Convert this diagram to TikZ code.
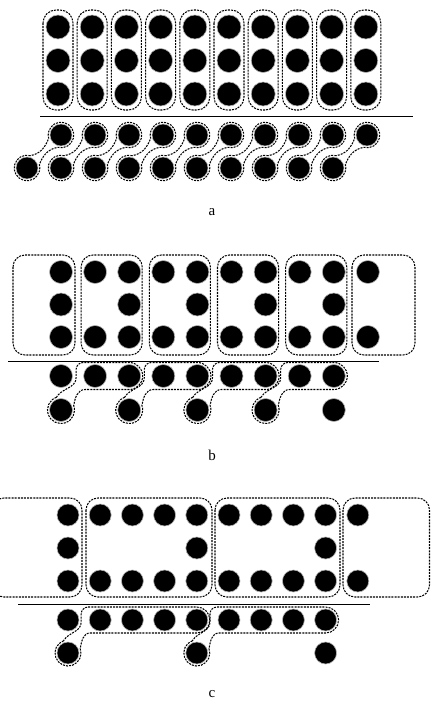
\documentclass[tikz,border=0pt]{standalone}
\usepackage{fontspec}
\setmainfont{Liberation Serif}
\usetikzlibrary{calc}
\tikzset{
  dl/.style={draw=black, line width=1.05pt, dash pattern=on 2pt off 1.1pt},
  dotbase/.style={circle, fill=black, draw=black!30, line width=0.6pt, inner sep=0pt},
  dotA/.style={dotbase, minimum size=24pt},
  dotAs/.style={dotbase, minimum size=22pt},
  dotB/.style={dotbase, minimum size=23pt},
  dotC/.style={dotbase, minimum size=22pt},
  sep/.style={draw=black, line width=0.9pt},
  lab/.style={font=\fontsize{15}{17}\selectfont, inner sep=0pt}
}
\begin{document}
\begin{tikzpicture}[x=1pt,y=1pt]
\useasboundingbox (0,0) rectangle (431,-704);
\begin{scope}
\clip (0,0) rectangle (431,-704);

% ---------------- panel a ----------------
\foreach \i in {0,...,9} {
  \pgfmathsetmacro\cx{58+34.2*\i}
  \draw[dl, rounded corners=13] (\cx-15,-10) rectangle (\cx+15,-110);
  \node[dotA] (a-\i-1) at (\cx,-27) {};
  \node[dotA] (a-\i-2) at (\cx,-60.5) {};
  \node[dotA] (a-\i-3) at (\cx,-94) {};
}
\coordinate (aL) at (40,-116);
\coordinate (aR) at (413,-116);
\draw[sep] (aL) -- (aR);
\foreach \i in {0,...,9} {
  \pgfmathsetmacro\bx{27+34*\i}
  \pgfmathsetmacro\tx{61+34*\i}
  \node[dotAs] (ab-\i) at (\bx,-168) {};
  \node[dotAs] (at-\i) at (\tx,-135) {};
  \draw[dl] ($(\bx,-168)+(75:12.8)$) arc[start angle=75,end angle=375,radius=12.8]
     to[out=70,in=190] ($(\tx,-135)+(255:12.8)$)
     arc[start angle=255,end angle=555,radius=12.8]
     to[out=250,in=10] ($(\bx,-168)+(75:12.8)$) -- cycle;
}
\node[lab] (la) at (212,-212) {a};

% ---------------- panel b ----------------
\foreach \i in {0,...,9} {
  \pgfmathsetmacro\cx{61+34.1*\i}
  \node[dotB] (b-\i-1) at (\cx,-272) {};
  \node[dotB] (b-\i-3) at (\cx,-337) {};
}
\foreach \i in {0,2,4,6,8} {
  \pgfmathsetmacro\cx{61+34.1*\i}
  \node[dotB] (b-\i-2) at (\cx,-304.5) {};
}
\draw[dl, rounded corners=12] (13,-255) rectangle (75,-355);
\foreach \k in {1,2,3,4} {
  \pgfmathsetmacro\xl{61+34.1*(2*\k-1)-14}
  \pgfmathsetmacro\xr{61+34.1*(2*\k)+13}
  \draw[dl, rounded corners=12] (\xl,-255) rectangle (\xr,-355);
}
\draw[dl, rounded corners=12] (352,-255) rectangle (415,-355);
\coordinate (bL) at (8,-361);
\coordinate (bR) at (379,-361);
\draw[sep] (bL) -- (bR);
\foreach \i in {0,...,8} {
  \pgfmathsetmacro\cx{61+34.1*\i}
  \node[dotB] (bt-\i) at (\cx,-376) {};
}
\foreach \i in {0,2,4,6,8} {
  \pgfmathsetmacro\cx{61+34.1*\i}
  \node[dotB] (bb-\i) at (\cx,-410) {};
}
\foreach \k in {0,1,2,3} {
  \pgfmathsetmacro\bx{61+34.1*(2*\k)}
  \pgfmathsetmacro\ta{61+34.1*(2*\k+1)}
  \pgfmathsetmacro\tb{61+34.1*(2*\k+2)}
  \draw[dl] ($(\bx,-410)+(110:13.5)$) arc[start angle=110,end angle=380,radius=13.5]
     to[out=80,in=180] (\ta-10,-389.5) -- (\tb,-389.5)
     arc[start angle=-90,end angle=90,radius=13.5] -- (\ta-12,-362.5)
     arc[start angle=90,end angle=180,radius=7] -- ++(0,-8)
     to[out=270,in=60] ($(\bx,-410)+(110:13.5)$) -- cycle;
}
\node[lab] (lb) at (212,-455) {b};

% ---------------- panel c ----------------
\foreach \i in {0,...,9} {
  \pgfmathsetmacro\cx{68+32.2*\i}
  \node[dotC] (c-\i-1) at (\cx,-515) {};
  \node[dotC] (c-\i-3) at (\cx,-581) {};
}
\foreach \i in {0,4,8} {
  \pgfmathsetmacro\cx{68+32.2*\i}
  \node[dotC] (c-\i-2) at (\cx,-548) {};
}
\draw[dl, rounded corners=12] (-8,-498) rectangle (82,-597);
\draw[dl, rounded corners=12] (86,-498) rectangle (212,-597);
\draw[dl, rounded corners=12] (215,-498) rectangle (340,-597);
\draw[dl, rounded corners=12] (343,-498) rectangle (429.5,-597);
\coordinate (cL) at (18,-604);
\coordinate (cR) at (370,-604);
\draw[sep] (cL) -- (cR);
\foreach \i in {0,...,8} {
  \pgfmathsetmacro\cx{68+32.2*\i}
  \node[dotC] (ct-\i) at (\cx,-620) {};
}
\foreach \i in {0,4,8} {
  \pgfmathsetmacro\cx{68+32.2*\i}
  \node[dotC] (cb-\i) at (\cx,-653) {};
}
\foreach \k in {0,1} {
  \pgfmathsetmacro\bx{68+32.2*(4*\k)}
  \pgfmathsetmacro\ta{68+32.2*(4*\k+1)}
  \pgfmathsetmacro\tb{68+32.2*(4*\k+4)}
  \draw[dl] ($(\bx,-653)+(110:13)$) arc[start angle=110,end angle=380,radius=13]
     to[out=80,in=180] (\ta-10,-633) -- (\tb,-633)
     arc[start angle=-90,end angle=90,radius=13] -- (\ta-12,-607)
     arc[start angle=90,end angle=180,radius=7] -- ++(0,-8)
     to[out=270,in=60] ($(\bx,-653)+(110:13)$) -- cycle;
}
\node[lab] (lc) at (212,-694) {c};
\end{scope}
\end{tikzpicture}
\end{document}
